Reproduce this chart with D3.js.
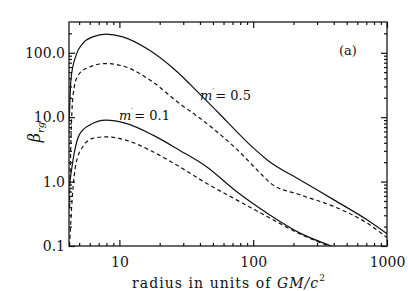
<!DOCTYPE html>
<html>
<head>
<meta charset="utf-8">
<script src="https://cdn.jsdelivr.net/npm/d3@7"></script>
<style>
  body { margin: 0; background: #fff; }
  svg text { font-family: "DejaVu Serif", serif; fill: #111; }
</style>
</head>
<body>
<svg id="chart" width="408" height="291"></svg>
<script>
// values (radius in GM/c^2, beta_rg)
var r05Solid = [4.22, 4.35, 4.74, 5.32, 6.32, 7.95, 10.6, 16.8, 26.6, 39.6, 55.9, 75, 100.6, 128, 226, 401, 713, 1000];
var b05Solid = [9, 40, 91, 139, 176, 194, 176, 109, 52, 23.2, 11.3, 6.0, 3.3, 2.15, 1.05, 0.52, 0.253, 0.155];

var r05Dash = [4.24, 4.35, 4.52, 4.84, 5.64, 7.95, 11.2, 17.8, 28.1, 40.3, 72, 120, 135, 226, 401, 713, 1000];
var b05Dash = [0.4, 5, 23.3, 42, 57, 68, 60, 35, 16.3, 9.5, 3.47, 1.19, 0.94, 0.62, 0.41, 0.225, 0.135];

var r01Solid = [4.25, 4.59, 5.0, 5.96, 7.95, 11.2, 17.8, 28.1, 44.8, 75, 128, 226, 385];
var b01Solid = [0.94, 2.73, 5.26, 7.5, 9.0, 8.0, 5.26, 3.07, 1.7, 0.70, 0.32, 0.157, 0.1];

var r01Dash = [4.24, 4.45, 4.74, 5.32, 6.32, 7.95, 11.2, 17.8, 28.1, 44.8, 75, 128, 226, 370];
var b01Dash = [0.1, 0.6, 1.9, 3.47, 4.68, 4.96, 4.4, 2.9, 1.7, 0.94, 0.52, 0.285, 0.152, 0.1];

var xTicks = [10, 100, 1000];
var xTickLabels = ["10", "100", "1000"];
var yTicks = [0.1, 1, 10, 100];
var yTickLabels = ["0.1", "1.0", "10.0", "100.0"];

var svg = d3.select("#chart");
var margin = {left: 69, top: 22, right: 21, bottom: 45};
var width = 408 - margin.left - margin.right;
var height = 291 - margin.top - margin.bottom;

var x = d3.scaleLog().domain([4.2, 1000]).range([0, width]);
var y = d3.scaleLog().domain([0.1, 300]).range([height, 0]);

var g = svg.append("g").attr("transform", "translate(" + margin.left + "," + margin.top + ")");

// minor ticks
function minorTicks(lo, hi) {
    var out = [];
    for (var d = Math.pow(10, Math.floor(Math.log10(lo))); d < hi; d *= 10) {
        for (var k = 2; k <= 9; k++) {
            var v = k * d;
            if (v > lo && v < hi) out.push(v);
        }
    }
    return out;
}
var xMinor = minorTicks(4.2, 1000);
var yMinor = minorTicks(0.1, 300);

function drawAxis(axisFn, scale, major, minor, transform, labels, pad) {
    var a = g.append("g").attr("transform", transform);
    a.call(axisFn(scale).tickValues(minor).tickSize(-3).tickFormat(""));
    var b = g.append("g").attr("transform", transform);
    b.call(axisFn(scale).tickValues(major).tickSize(-6).tickPadding(pad || 4)
        .tickFormat(function(d, i) { return labels ? labels[i] : ""; }));
    [a, b].forEach(function(s) {
        s.select(".domain").remove();
        s.selectAll("line").attr("stroke", "#111").attr("stroke-width", 1.2);
        s.selectAll("text").attr("font-size", 14).attr("fill", "#111")
            .style("font-family", "'DejaVu Serif', serif");
    });
    return b;
}

// frame
g.append("rect")
    .attr("width", width).attr("height", height)
    .attr("fill", "none").attr("stroke", "#444").attr("stroke-width", 1.6);

drawAxis(d3.axisBottom, x, xTicks, xMinor, "translate(0," + height + ")", xTickLabels, 11);
drawAxis(d3.axisTop, x, xTicks, xMinor, "translate(0,0)", null);
drawAxis(d3.axisLeft, y, yTicks, yMinor, "translate(0,0)", yTickLabels, 4);
drawAxis(d3.axisRight, y, yTicks, yMinor, "translate(" + width + ",0)", null);

// curves
var line = d3.line()
    .curve(d3.curveMonotoneX)
    .x(function(d) { return x(d[0]); })
    .y(function(d) { return y(d[1]); });

g.append("clipPath").attr("id", "clip")
    .append("rect").attr("width", width).attr("height", height);

var series = [
    {r: r05Solid, b: b05Solid, dash: null},
    {r: r05Dash, b: b05Dash, dash: "4,3"},
    {r: r01Solid, b: b01Solid, dash: null},
    {r: r01Dash, b: b01Dash, dash: "4,3"}
];

series.forEach(function(s) {
    g.append("path")
        .datum(d3.zip(s.r, s.b))
        .attr("clip-path", "url(#clip)")
        .attr("fill", "none")
        .attr("stroke", "#111")
        .attr("stroke-width", 1.2)
        .attr("stroke-dasharray", s.dash)
        .attr("d", line);
});

// labels
function mdotLabel(px, py, val) {
    var t = svg.append("text").attr("x", px).attr("y", py).attr("font-size", 13);
    t.append("tspan").attr("font-style", "italic").text("m");
    t.append("tspan").attr("dx", -1).attr("dy", -6).attr("font-size", 8).text("˙");
    t.append("tspan").attr("dy", 6).text("= " + val);
}
mdotLabel(200, 100, "0.5");
mdotLabel(119, 120, "0.1");

svg.append("text").attr("x", 339).attr("y", 55).attr("font-size", 13).text("(a)");

// x axis title
var xt = svg.append("text").attr("x", 132).attr("y", 288)
    .attr("font-size", 14).attr("textLength", 193).attr("lengthAdjust", "spacing");
xt.append("tspan").text("radius in units of ");
xt.append("tspan").attr("font-style", "italic").text("GM/c");
xt.append("tspan").attr("font-size", 9).attr("dy", -7).text("2");

// y axis title
var yt = svg.append("text")
    .attr("transform", "translate(40,132) rotate(-90)")
    .attr("text-anchor", "middle").attr("font-size", 16);
yt.append("tspan").attr("font-style", "italic").text("β");
yt.append("tspan").attr("font-style", "italic").attr("font-size", 10).attr("dy", 4).text("rg");
</script>
</body>
</html>
